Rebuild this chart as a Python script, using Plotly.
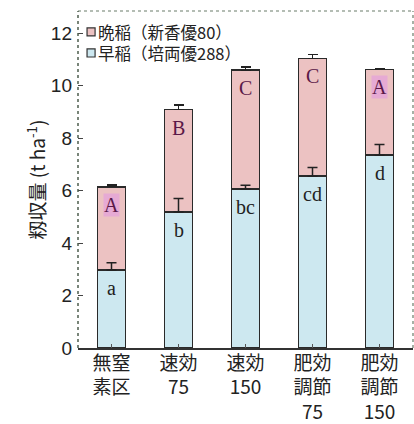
import plotly.graph_objects as go

categories = ["無窒<br>素区", "速効<br>75", "速効<br>150", "肥効<br>調節<br>75", "肥効<br>調節<br>150"]
early = [2.97, 5.19, 6.06, 6.55, 7.35]
early_err = [0.28, 0.51, 0.15, 0.33, 0.41]
late = [3.18, 3.90, 4.53, 4.49, 3.27]
late_err = [0.07, 0.17, 0.13, 0.15, 0.03]
early_letters = ["a", "b", "bc", "cd", "d"]
late_letters = ["A", "B", "C", "C", "A"]
late_highlight = [True, False, False, False, True]

name_early = "早稲（培両優288）"
name_late = "晩稲（新香優80）"

col_early = "#cde8f0"
col_late = "#ecc2c2"
cjk = "Noto Sans CJK JP, Liberation Sans, sans-serif"
x = list(range(len(categories)))

fig = go.Figure()
fig.add_trace(go.Bar(
    x=x, y=early, name=name_early, showlegend=False,
    marker=dict(color=col_early, line=dict(color="#2a2a2a", width=1.6)),
    width=0.42,
))
fig.add_trace(go.Bar(
    x=x, y=late, name=name_late, showlegend=False,
    marker=dict(color=col_late, line=dict(color="#2a2a2a", width=1.6)),
    width=0.42,
    error_y=dict(type="data", symmetric=False, array=late_err,
                 arrayminus=[0] * len(late), color="#222", thickness=1.5, width=5),
))
# early error bars drawn on top of the stacked bars
fig.add_trace(go.Scatter(
    x=x, y=early, mode="markers", showlegend=False, hoverinfo="skip",
    marker=dict(size=1, opacity=0),
    error_y=dict(type="data", symmetric=False, array=early_err,
                 arrayminus=[0] * len(early), color="#222", thickness=1.5, width=5),
))

for i in x:
    fig.add_annotation(x=i, y=early[i], text=early_letters[i], showarrow=False,
                       yanchor="top", yshift=-5,
                       font=dict(family="Liberation Serif, serif", size=20, color="#222"))
    fig.add_annotation(x=i, y=early[i] + late[i], text=late_letters[i], showarrow=False,
                       yanchor="top", yshift=-6,
                       bgcolor="#e6aad4" if late_highlight[i] else "rgba(0,0,0,0)",
                       borderpad=0,
                       font=dict(family="Liberation Serif, serif", size=20, color="#5a1848"))

# custom legend (late on top, early below)
legend_items = [(name_late, col_late), (name_early, col_early)]
for k, (txt, col) in enumerate(legend_items):
    yc = 0.938 - k * 0.0625
    fig.add_shape(type="rect", xref="paper", yref="paper",
                  x0=0.027, x1=0.051, y0=yc - 0.012, y1=yc + 0.012,
                  line=dict(color="#333", width=1.2), fillcolor=col)
fig.add_annotation(xref="paper", yref="paper", x=0.055, y=0.938 - 0.03125,
                   text="<br>".join(t for t, _ in legend_items),
                   showarrow=False, xanchor="left", yanchor="middle", align="left",
                   font=dict(family=cjk, size=16.5, color="#222"))

# dotted frame (top, right, left)
fig.add_shape(type="line", xref="paper", yref="paper", x0=0, x1=1, y0=1, y1=1,
              line=dict(color="#6b7d6b", width=1.2, dash="dot"))
fig.add_shape(type="line", xref="paper", yref="paper", x0=1, x1=1, y0=0, y1=1,
              line=dict(color="#6b7d6b", width=1.2, dash="dot"))
fig.add_shape(type="line", xref="paper", yref="paper", x0=0, x1=0, y0=0, y1=1,
              line=dict(color="#4d5e4d", width=1.5, dash="dot"))

fig.update_layout(
    width=414, height=424,
    margin=dict(l=78, r=1, t=11, b=76),
    paper_bgcolor="white", plot_bgcolor="white",
    barmode="stack",
    showlegend=False,
    xaxis=dict(
        tickmode="array", tickvals=x, ticktext=categories,
        range=[-0.5, 4.5], showgrid=False, zeroline=False,
        showline=True, linecolor="#333", linewidth=1.5,
        ticks="inside", ticklen=4, tickcolor="#555",
        automargin=False, ticklabelstandoff=-3,
        tickfont=dict(family=cjk, size=19, color="#222"),
    ),
    yaxis=dict(
        range=[0, 12.85], tickvals=[0, 2, 4, 6, 8, 10, 12],
        showgrid=False, zeroline=False, showline=False,
        ticks="inside", ticklen=5, tickcolor="#444",
        ticklabelstandoff=5, automargin=False,
        tickfont=dict(family="Liberation Sans, Arial, sans-serif", size=19, color="#222"),
        title=dict(text="籾収量 (t ha<sup>-1</sup>)", standoff=0,
                   font=dict(family=cjk, size=19, color="#222")),
    ),
)

fig.write_html("out.html")
